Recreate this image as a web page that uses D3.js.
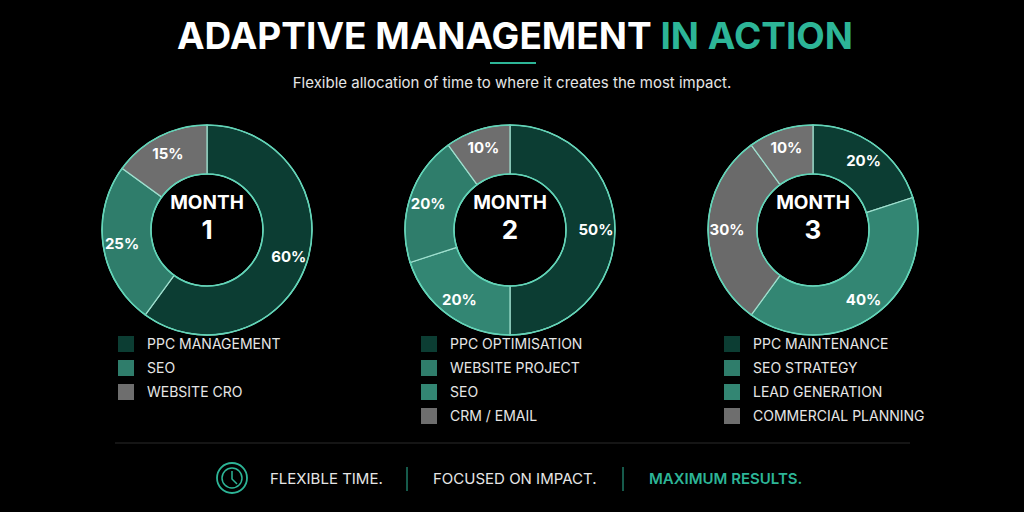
<!DOCTYPE html><html><head><meta charset="utf-8"><script src="https://cdn.jsdelivr.net/npm/d3@7"></script>
<style>body{margin:0;background:#000}</style></head><body><svg id="c" width="1024" height="512"></svg>
<script>
const months=["1","2","3"];
const values=[[60,25,15],[50,20,20,10],[20,40,30,10]];
const sliceColors=[["#0c3d33","#2f7d6b","#6e6e6e"],["#0c3d33","#338673","#2f7d6b","#6e6e6e"],["#0c3d33","#338673","#6a6a6a","#707070"]];
const legendLabels=[["PPC MANAGEMENT","SEO","WEBSITE CRO"],["PPC OPTIMISATION","WEBSITE PROJECT","SEO","CRM / EMAIL"],["PPC MAINTENANCE","SEO STRATEGY","LEAD GENERATION","COMMERCIAL PLANNING"]];
const legendColors=[["#0c3d33","#2f7d6b","#6e6e6e"],["#0c3d33","#2f7d6b","#338673","#6e6e6e"],["#0c3d33","#2f7d6b","#338673","#6e6e6e"]];
const footer=["FLEXIBLE TIME.","FOCUSED ON IMPACT.","MAXIMUM RESULTS."];
const svg=d3.select("#c");const F="Inter, 'Open Sans', sans-serif";
svg.append("rect").attr("width",1024).attr("height",512).attr("fill","#000");
const t=svg.append("text").attr("x",515).attr("y",49).attr("text-anchor","middle").attr("font-family",F).attr("font-weight",700).attr("font-size",37).attr("fill","#fff");
t.append("tspan").text("ADAPTIVE MANAGEMENT ");t.append("tspan").attr("fill","#2db597").text("IN ACTION");
svg.append("line").attr("x1",490).attr("x2",536).attr("y1",63).attr("y2",63).attr("stroke","#2db597").attr("stroke-width",2);
svg.append("text").attr("x",512).attr("y",88).attr("text-anchor","middle").attr("font-family",F).attr("font-size",15).attr("fill","#e6e6e6").text("Flexible allocation of time to where it creates the most impact.");
const cx=d3.scalePoint().domain(months).range([207,813]);
const pie=d3.pie().sort(null).value(d=>d);
const arc=d3.arc().innerRadius(56).outerRadius(105);
const lab=d3.arc().innerRadius(86).outerRadius(86);
months.forEach((m,i)=>{
 const g=svg.append("g").attr("transform",`translate(${cx(m)},230)`);
 const ps=pie(values[i]);
 g.selectAll("path").data(ps).join("path").attr("d",arc).attr("fill",(d,j)=>sliceColors[i][j]).attr("stroke","#9fe0cf").attr("stroke-width",1.2);
 g.append("circle").attr("r",105).attr("fill","none").attr("stroke","#5fd6b8").attr("stroke-width",1.5);
 g.append("circle").attr("r",56).attr("fill","none").attr("stroke","#5fd6b8").attr("stroke-width",1.5);
 g.selectAll("text.p").data(ps).join("text").attr("transform",d=>`translate(${lab.centroid(d)})`).attr("dy","0.35em").attr("text-anchor","middle").attr("font-family",F).attr("font-weight",700).attr("font-size",15).attr("fill","#fff").text(d=>d.data+"%");
 g.append("text").attr("dy","0.35em").attr("y",-28).attr("text-anchor","middle").attr("font-family",F).attr("font-weight",700).attr("font-size",19).attr("fill","#fff").text("MONTH");
 g.append("text").attr("y",0).attr("dy","0.35em").attr("text-anchor","middle").attr("font-family",F).attr("font-weight",700).attr("font-size",26).attr("fill","#fff").text(m);
 const lx=cx(m)-89;
 legendLabels[i].forEach((l,j)=>{
  svg.append("rect").attr("x",lx).attr("y",336+j*24).attr("width",16).attr("height",16).attr("fill",legendColors[i][j]);
  svg.append("text").attr("x",lx+29).attr("y",344+j*24).attr("dy","0.35em").attr("font-family",F).attr("font-size",14).attr("fill","#e6e6e6").text(l);
 });
});
svg.append("line").attr("x1",115).attr("x2",910).attr("y1",443).attr("y2",443).attr("stroke","#2a2a2a");
const fg=svg.append("g").attr("font-family",F).attr("font-size",15);
fg.append("circle").attr("cx",232).attr("cy",478).attr("r",15).attr("fill","none").attr("stroke","#2db597").attr("stroke-width",1.8);
fg.append("circle").attr("cx",232).attr("cy",478).attr("r",10).attr("fill","none").attr("stroke","#2db597").attr("stroke-width",1.5);
fg.append("path").attr("d","M232,471 L232,479 L237,484").attr("fill","none").attr("stroke","#2db597").attr("stroke-width",1.5);
fg.append("text").attr("x",270).attr("y",479).attr("dy","0.35em").attr("fill","#e6e6e6").text(footer[0]);
fg.append("line").attr("x1",407).attr("x2",407).attr("y1",467).attr("y2",491).attr("stroke","#2db597");
fg.append("text").attr("x",433).attr("y",479).attr("dy","0.35em").attr("fill","#e6e6e6").text(footer[1]);
fg.append("line").attr("x1",623).attr("x2",623).attr("y1",467).attr("y2",491).attr("stroke","#2db597");
fg.append("text").attr("x",649).attr("y",479).attr("dy","0.35em").attr("fill","#2db597").attr("font-weight",600).text(footer[2]);
</script></body></html>
